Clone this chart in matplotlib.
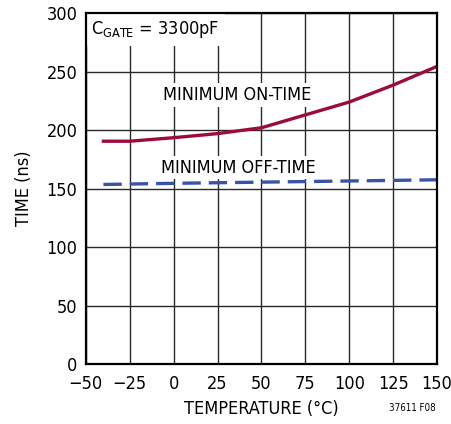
import matplotlib
matplotlib.use("Agg")
import matplotlib.pyplot as plt

# data
temp_on = [-40, -25, 0, 25, 50, 75, 100, 125, 150]
on_time = [190.5, 190.5, 193.5, 197, 202, 213, 224, 238.5, 254.5]
temp_off = [-40, 0, 50, 100, 150]
off_time = [153.5, 154.5, 155.5, 156.5, 157.5]

x_ticks = [-50, -25, 0, 25, 50, 75, 100, 125, 150]
x_labels = ["\u221250", "\u221225", "0", "25", "50", "75", "100", "125", "150"]
y_ticks = [0, 50, 100, 150, 200, 250, 300]

plt.rcParams["font.family"] = ["DejaVu Sans"]
plt.rcParams["font.stretch"] = "condensed"
plt.rcParams["mathtext.fontset"] = "custom"
plt.rcParams["mathtext.rm"] = "DejaVu Sans:stretch=condensed"

fig = plt.figure(figsize=(4.52, 4.24), dpi=100)
ax = fig.add_axes([0.190, 0.1415, 0.777, 0.8275])

ax.plot(temp_on, on_time, color="#9B0B3C", lw=2.4, zorder=3)
ax.plot(temp_off, off_time, color="#3A53A4", lw=2.4, dashes=(5.5, 2.4), zorder=3)

ax.set_xlim(-50, 150)
ax.set_ylim(0, 300)
ax.set_xticks(x_ticks)
ax.set_xticklabels(x_labels)
ax.set_yticks(y_ticks)
ax.tick_params(length=0, labelsize=13)
ax.tick_params(axis="x", pad=8)
ax.tick_params(axis="y", pad=6)
ax.grid(True, color="#2a2a2a", lw=1.0, zorder=1)
for s in ax.spines.values():
    s.set_linewidth(1.6)
    s.set_zorder(4)

ax.set_xlabel("TEMPERATURE (\u00b0C)", fontsize=13, labelpad=5)
ax.set_ylabel("TIME (ns)", fontsize=13, labelpad=10)

box = dict(facecolor="white", edgecolor="none", pad=2)
ax.text(-47, 286, r"C$_{\mathrm{GATE}}$ = 3300pF", fontsize=13, va="center", ha="left",
        bbox=dict(facecolor="white", edgecolor="none", pad=4), zorder=2)
ax.text(36, 230, "MINIMUM ON-TIME", fontsize=13, ha="center", va="center", bbox=box, zorder=2)
ax.text(37, 168, "MINIMUM OFF-TIME", fontsize=13, ha="center", va="center", bbox=box, zorder=2)

fig.text(0.965, 0.027, "37611 F08", fontsize=7, ha="right", va="bottom")

fig.savefig("out.png", dpi=100)
